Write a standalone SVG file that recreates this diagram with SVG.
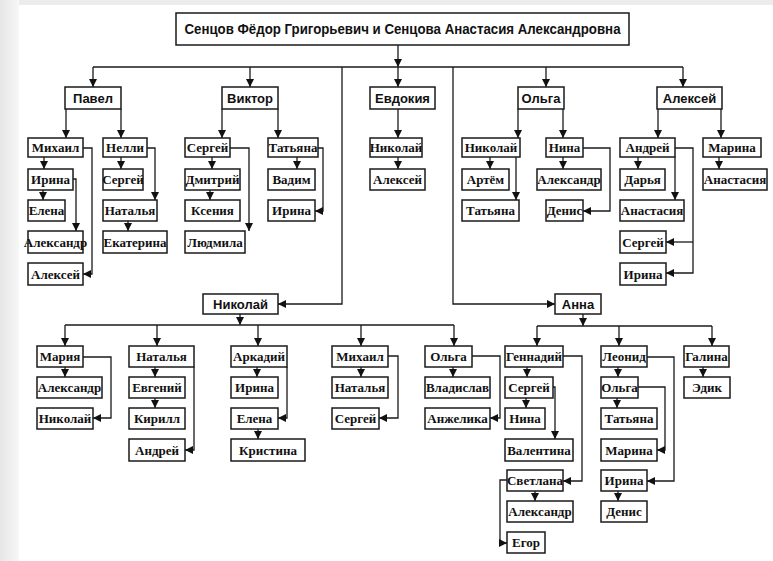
<svg xmlns="http://www.w3.org/2000/svg" width="773" height="561" viewBox="0 0 773 561">
<style>
.b{fill:#fff;stroke:#1a1a1a;stroke-width:1.5}
.t{font-family:"Liberation Serif","Times New Roman",serif;font-weight:bold;font-size:13px;fill:#111;text-anchor:middle}
.h{font-family:"Liberation Sans",Arial,sans-serif;font-weight:bold;font-size:13px;fill:#111;text-anchor:middle}
.c{fill:none;stroke:#1a1a1a;stroke-width:1.3}
.a{marker-end:url(#arr)}
</style>
<defs>
<linearGradient id="lg" x1="0" y1="0" x2="1" y2="0">
<stop offset="0" stop-color="#e6e6e6"/><stop offset="1" stop-color="#f7f7f7"/>
</linearGradient>
<marker id="arr" markerUnits="userSpaceOnUse" markerWidth="8" markerHeight="8" refX="8" refY="4" orient="auto">
<path d="M0,0 L8,4 L0,8 z" fill="#111"/>
</marker>
</defs>
<rect x="0" y="0" width="773" height="561" fill="#fff"/>
<rect x="0" y="0" width="773" height="5" fill="#ececec"/>
<rect x="0" y="0" width="19" height="561" fill="url(#lg)"/>

<g id="connectors">
<path class="c a" d="M398,45 V67"/>
<path class="c" d="M93,67 H683"/>
<path class="c a" d="M93,67 V87"/>
<path class="c a" d="M250,67 V87"/>
<path class="c a" d="M398,67 V87"/>
<path class="c a" d="M546,67 V87"/>
<path class="c a" d="M683,67 V87"/>
<path class="c a" d="M342,67 V304 H278"/>
<path class="c a" d="M453,67 V304 H555"/>

<path class="c a" d="M66,109 V138"/>
<path class="c a" d="M121,109 V138"/>
<path class="c a" d="M44,157 V169"/>
<path class="c a" d="M83,148 H92 V274 H83"/>
<path class="c a" d="M43,190 V200"/>
<path class="c a" d="M73,179 H76 V231"/>
<path class="c a" d="M121,157 V169"/>
<path class="c a" d="M147,148 H155 V200"/>
<path class="c a" d="M128,221 V231"/>

<path class="c a" d="M222,109 V138"/>
<path class="c a" d="M278,109 V138"/>
<path class="c a" d="M212,157 V169"/>
<path class="c a" d="M230,148 H249 V231"/>
<path class="c a" d="M210,190 V200"/>
<path class="c a" d="M297,157 V169"/>
<path class="c a" d="M318,148 H323 V211 H315"/>

<path class="c a" d="M398,109 V138"/>
<path class="c a" d="M398,157 V169"/>

<path class="c a" d="M518,109 V138"/>
<path class="c a" d="M563,109 V138"/>
<path class="c a" d="M490,157 V169"/>
<path class="c a" d="M516,157 V200"/>
<path class="c a" d="M563,157 V169"/>
<path class="c a" d="M583,148 H610 V211 H583"/>

<path class="c a" d="M658,109 V138"/>
<path class="c a" d="M721,109 V138"/>
<path class="c a" d="M638,157 V169"/>
<path class="c a" d="M675,157 V200"/>
<path class="c a" d="M675,148 H693 V273 H666"/>
<path class="c a" d="M693,242 H666"/>
<path class="c a" d="M719,157 V169"/>

<path class="c a" d="M240,314 V325"/>
<path class="c" d="M65,325 H454"/>
<path class="c a" d="M65,325 V346"/>
<path class="c a" d="M157,325 V346"/>
<path class="c a" d="M258,325 V346"/>
<path class="c a" d="M361,325 V346"/>
<path class="c a" d="M454,325 V346"/>
<path class="c a" d="M65,367 V377"/>
<path class="c a" d="M83,357 H111 V418 H93"/>
<path class="c a" d="M155,367 V377"/>
<path class="c a" d="M194,367 V450 H185"/>
<path class="c a" d="M155,398 V408"/>
<path class="c a" d="M257,367 V377"/>
<path class="c a" d="M287,367 V418 H278"/>
<path class="c a" d="M258,429 V439"/>
<path class="c a" d="M361,367 V377"/>
<path class="c a" d="M388,356 H398 V418 H379"/>
<path class="c a" d="M453,367 V377"/>
<path class="c a" d="M472,356 H500 V418 H490"/>

<path class="c a" d="M583,314 V326"/>
<path class="c" d="M537,326 H712"/>
<path class="c a" d="M537,326 V346"/>
<path class="c a" d="M619,326 V346"/>
<path class="c a" d="M712,326 V346"/>
<path class="c a" d="M527,367 V377"/>
<path class="c a" d="M563,356 H582 V481 H563"/>
<path class="c a" d="M526,398 V408"/>
<path class="c a" d="M553,387 H555 V439"/>
<path class="c a" d="M535,491 V501"/>
<path class="c a" d="M507,480 H500 V543 H507"/>
<path class="c a" d="M618,367 V377"/>
<path class="c a" d="M647,357 H674 V481 H647"/>
<path class="c a" d="M617,398 V408"/>
<path class="c a" d="M638,387 H665 V450 H657"/>
<path class="c a" d="M618,491 V501"/>
<path class="c a" d="M703,367 V377"/>
</g>

<g id="root"><rect class="b" x="176" y="13" width="453" height="32"/><text class="h" style="font-size:14px" x="402.5" y="34" textLength="436" lengthAdjust="spacingAndGlyphs">Сенцов Фёдор Григорьевич и Сенцова Анастасия Александровна</text></g>

<g id="pavel"><rect class="b" x="65" y="87" width="56" height="22"/><text class="h" x="93" y="102.5">Павел</text></g>
<g id="viktor"><rect class="b" x="222" y="87" width="56" height="22"/><text class="h" x="250" y="102.5">Виктор</text></g>
<g id="evdokiya"><rect class="b" x="370" y="87" width="65" height="22"/><text class="h" x="402.5" y="102.5">Евдокия</text></g>
<g id="olga"><rect class="b" x="518" y="87" width="46" height="22"/><text class="h" x="541" y="102.5">Ольга</text></g>
<g id="aleksey"><rect class="b" x="657" y="87" width="65" height="22"/><text class="h" x="689.5" y="102.5">Алексей</text></g>
<g id="nikolay"><rect class="b" x="203" y="294" width="75" height="20"/><text class="h" x="240.5" y="308.5">Николай</text></g>
<g id="anna"><rect class="b" x="555" y="294" width="46" height="20"/><text class="h" x="578" y="308.5">Анна</text></g>

<g id="p-mikhail"><rect class="b" x="28" y="138" width="55" height="19"/><text class="t" x="55.5" y="152">Михаил</text></g>
<g id="p-nelli"><rect class="b" x="103" y="138" width="44" height="19"/><text class="t" x="125" y="152">Нелли</text></g>
<g id="v-sergey"><rect class="b" x="185" y="138" width="45" height="19"/><text class="t" x="207.5" y="152">Сергей</text></g>
<g id="v-tatyana"><rect class="b" x="268" y="138" width="50" height="19"/><text class="t" x="293" y="152">Татьяна</text></g>
<g id="e-nikolay"><rect class="b" x="370" y="138" width="52" height="19"/><text class="t" x="396" y="152">Николай</text></g>
<g id="o-nikolay"><rect class="b" x="462" y="138" width="58" height="19"/><text class="t" x="491" y="152">Николай</text></g>
<g id="o-nina"><rect class="b" x="546" y="138" width="37" height="19"/><text class="t" x="564.5" y="152">Нина</text></g>
<g id="a-andrey"><rect class="b" x="620" y="138" width="55" height="19"/><text class="t" x="647.5" y="152">Андрей</text></g>
<g id="a-marina"><rect class="b" x="703" y="138" width="58" height="19"/><text class="t" x="732" y="152">Марина</text></g>

<g id="m-irina"><rect class="b" x="28" y="169" width="45" height="21"/><text class="t" x="50.5" y="184">Ирина</text></g>
<g id="n-sergey"><rect class="b" x="103" y="169" width="40" height="21"/><text class="t" x="123" y="184">Сергей</text></g>
<g id="s-dmitriy"><rect class="b" x="185" y="169" width="55" height="21"/><text class="t" x="212.5" y="184">Дмитрий</text></g>
<g id="t-vadim"><rect class="b" x="268" y="169" width="47" height="21"/><text class="t" x="291.5" y="184">Вадим</text></g>
<g id="en-aleksey"><rect class="b" x="370" y="169" width="55" height="21"/><text class="t" x="397.5" y="184">Алексей</text></g>
<g id="on-artem"><rect class="b" x="462" y="169" width="47" height="21"/><text class="t" x="485.5" y="184">Артём</text></g>
<g id="nina-aleksandr"><rect class="b" x="537" y="169" width="64" height="21"/><text class="t" x="569" y="184">Александр</text></g>
<g id="andrey-darya"><rect class="b" x="620" y="169" width="45" height="21"/><text class="t" x="642.5" y="184">Дарья</text></g>
<g id="marina-anastasiya"><rect class="b" x="703" y="169" width="64" height="21"/><text class="t" x="735" y="184">Анастасия</text></g>

<g id="irina-elena"><rect class="b" x="28" y="200" width="37" height="21"/><text class="t" x="46.5" y="215">Елена</text></g>
<g id="nelli-natalya"><rect class="b" x="103" y="200" width="54" height="21"/><text class="t" x="130" y="215">Наталья</text></g>
<g id="dmitriy-kseniya"><rect class="b" x="185" y="200" width="55" height="21"/><text class="t" x="212.5" y="215">Ксения</text></g>
<g id="tatyana-irina"><rect class="b" x="268" y="200" width="47" height="21"/><text class="t" x="291.5" y="215">Ирина</text></g>
<g id="on-tatyana"><rect class="b" x="462" y="200" width="57" height="21"/><text class="t" x="490.5" y="215">Татьяна</text></g>
<g id="nina-denis"><rect class="b" x="546" y="200" width="37" height="21"/><text class="t" x="564.5" y="215">Денис</text></g>
<g id="andrey-anastasiya"><rect class="b" x="620" y="200" width="64" height="21"/><text class="t" x="652" y="215">Анастасия</text></g>

<g id="irina-aleksandr"><rect class="b" x="28" y="231" width="55" height="22"/><text class="t" x="55.5" y="246.5">Александр</text></g>
<g id="natalya-ekaterina"><rect class="b" x="103" y="231" width="64" height="22"/><text class="t" x="135" y="246.5">Екатерина</text></g>
<g id="sergey-lyudmila"><rect class="b" x="185" y="231" width="60" height="22"/><text class="t" x="215" y="246.5">Людмила</text></g>
<g id="andrey-sergey"><rect class="b" x="620" y="231" width="46" height="22"/><text class="t" x="643" y="246.5">Сергей</text></g>

<g id="mikhail-aleksey"><rect class="b" x="28" y="263" width="55" height="22"/><text class="t" x="55.5" y="278.5">Алексей</text></g>
<g id="andrey-irina"><rect class="b" x="620" y="263" width="46" height="22"/><text class="t" x="643" y="278.5">Ирина</text></g>

<g id="mariya"><rect class="b" x="37" y="346" width="46" height="21"/><text class="t" x="60" y="361">Мария</text></g>
<g id="nk-natalya"><rect class="b" x="129" y="346" width="65" height="21"/><text class="t" x="161.5" y="361">Наталья</text></g>
<g id="arkadiy"><rect class="b" x="231" y="346" width="56" height="21"/><text class="t" x="259" y="361">Аркадий</text></g>
<g id="nk-mikhail"><rect class="b" x="332" y="346" width="56" height="21"/><text class="t" x="360" y="361">Михаил</text></g>
<g id="nk-olga"><rect class="b" x="425" y="346" width="47" height="21"/><text class="t" x="448.5" y="361">Ольга</text></g>
<g id="gennadiy"><rect class="b" x="505" y="346" width="58" height="21"/><text class="t" x="534" y="361">Геннадий</text></g>
<g id="leonid"><rect class="b" x="601" y="346" width="46" height="21"/><text class="t" x="624" y="361">Леонид</text></g>
<g id="galina"><rect class="b" x="684" y="346" width="45" height="21"/><text class="t" x="706.5" y="361">Галина</text></g>

<g id="mariya-aleksandr"><rect class="b" x="37" y="377" width="65" height="21"/><text class="t" x="69.5" y="392">Александр</text></g>
<g id="evgeniy"><rect class="b" x="129" y="377" width="56" height="21"/><text class="t" x="157" y="392">Евгений</text></g>
<g id="arkadiy-irina"><rect class="b" x="231" y="377" width="47" height="21"/><text class="t" x="254.5" y="392">Ирина</text></g>
<g id="mikhail-natalya"><rect class="b" x="332" y="377" width="56" height="21"/><text class="t" x="360" y="392">Наталья</text></g>
<g id="vladislav"><rect class="b" x="425" y="377" width="65" height="21"/><text class="t" x="457.5" y="392">Владислав</text></g>
<g id="gennadiy-sergey"><rect class="b" x="505" y="377" width="48" height="21"/><text class="t" x="529" y="392">Сергей</text></g>
<g id="leonid-olga"><rect class="b" x="601" y="377" width="37" height="21"/><text class="t" x="619.5" y="392">Ольга</text></g>
<g id="edik"><rect class="b" x="684" y="377" width="46" height="21"/><text class="t" x="707" y="392">Эдик</text></g>

<g id="mariya-nikolay"><rect class="b" x="37" y="408" width="56" height="21"/><text class="t" x="65" y="423">Николай</text></g>
<g id="kirill"><rect class="b" x="129" y="408" width="56" height="21"/><text class="t" x="157" y="423">Кирилл</text></g>
<g id="arkadiy-elena"><rect class="b" x="231" y="408" width="47" height="21"/><text class="t" x="254.5" y="423">Елена</text></g>
<g id="mikhail-sergey"><rect class="b" x="332" y="408" width="47" height="21"/><text class="t" x="355.5" y="423">Сергей</text></g>
<g id="anzhelika"><rect class="b" x="425" y="408" width="65" height="21"/><text class="t" x="457.5" y="423">Анжелика</text></g>
<g id="sergey-nina"><rect class="b" x="505" y="408" width="40" height="21"/><text class="t" x="525" y="423">Нина</text></g>
<g id="olga-tatyana"><rect class="b" x="601" y="408" width="56" height="21"/><text class="t" x="629" y="423">Татьяна</text></g>

<g id="natalya-andrey"><rect class="b" x="129" y="439" width="56" height="22"/><text class="t" x="157" y="454.5">Андрей</text></g>
<g id="kristina"><rect class="b" x="231" y="439" width="74" height="22"/><text class="t" x="268" y="454.5">Кристина</text></g>
<g id="valentina"><rect class="b" x="505" y="439" width="68" height="22"/><text class="t" x="539" y="454.5">Валентина</text></g>
<g id="olga-marina"><rect class="b" x="601" y="439" width="56" height="22"/><text class="t" x="629" y="454.5">Марина</text></g>

<g id="svetlana"><rect class="b" x="507" y="470" width="56" height="21"/><text class="t" x="535" y="485">Светлана</text></g>
<g id="leonid-irina"><rect class="b" x="601" y="470" width="46" height="21"/><text class="t" x="624" y="485">Ирина</text></g>

<g id="svetlana-aleksandr"><rect class="b" x="507" y="501" width="66" height="21"/><text class="t" x="540" y="516">Александр</text></g>
<g id="irina-denis"><rect class="b" x="601" y="501" width="46" height="21"/><text class="t" x="624" y="516">Денис</text></g>

<g id="egor"><rect class="b" x="507" y="532" width="38" height="21"/><text class="t" x="526" y="547">Егор</text></g>
</svg>
